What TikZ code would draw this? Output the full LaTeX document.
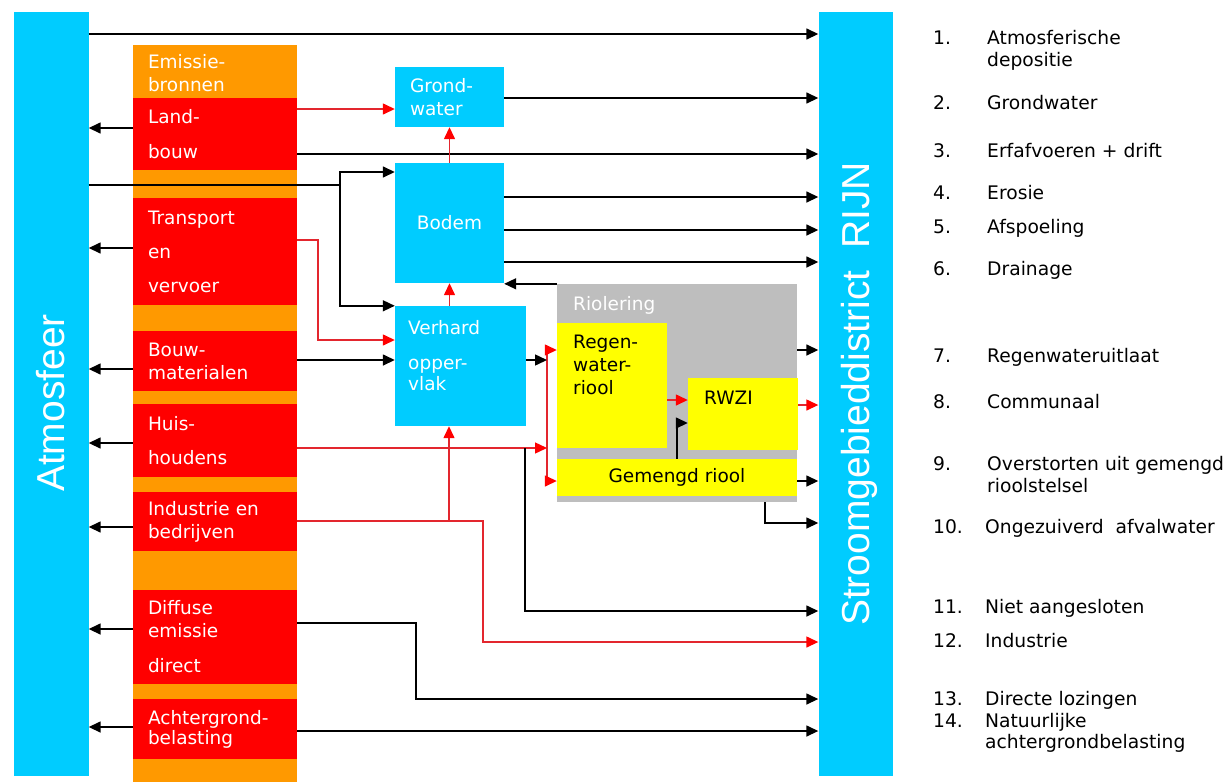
\documentclass[tikz,border=0pt]{standalone}
\usepackage{fontspec}
\usetikzlibrary{arrows.meta,positioning}
\newfontfamily\boxfont{DejaVu Sans}
\newfontfamily\barfont{Liberation Sans}
\definecolor{sky}{HTML}{00CCFF}
\definecolor{amber}{HTML}{FF9900}
\definecolor{signal}{HTML}{FF0000}
\definecolor{lemon}{HTML}{FFFF00}
\definecolor{sewer}{HTML}{BEBEBE}
\definecolor{redline}{HTML}{E3262E}

\begin{document}
\begin{tikzpicture}[x=1pt,y=-1pt,>={Triangle[length=12pt,width=11pt]},
  every node/.style={inner sep=0pt},
  bar/.style={fill=sky},
  bartxt/.style={font=\barfont\fontsize{39}{44}\selectfont,text=white,rotate=90},
  srcbox/.style={fill=signal,text=white,font=\boxfont\fontsize{18.5}{23}\selectfont,
    align=left,text width=134pt,inner xsep=15pt,minimum height=#1},
  bluebox/.style={fill=sky,text=white,font=\boxfont\fontsize{18.5}{23}\selectfont,align=left},
  wtxt/.style={text=white,font=\boxfont\fontsize{18.5}{23}\selectfont,align=left},
  ktxt/.style={text=black,font=\boxfont\fontsize{18.5}{23}\selectfont,align=left},
  legtxt/.style={text=black,font=\boxfont\fontsize{18.7}{22}\selectfont},
  flow/.style={draw=black,line width=1.5pt,->},
  redflow/.style={draw=redline,line width=1.4pt,-{Triangle[length=12pt,width=11pt,color=signal]}}]
\fill[white] (0,0) rectangle (1231,782);
\useasboundingbox (0,0) rectangle (1231,782);

% side bars
\node[bar,minimum width=75,minimum height=764] (atmosfeer) at (51,394) {};
\node[bar,minimum width=74,minimum height=764] (rijn) at (855.5,394) {};
\node[bartxt] (atmtxt) at (51,403) {Atmosfeer};
\node[bartxt] (rijntxt) at (859,394) {Stroomgebieddistrict~ RIJN};

% emission sources
\node[fill=amber,minimum width=164,minimum height=737] (kolom) at (215,413.5) {};
\node[srcbox=53,fill=amber] (emissie) at (215,73) {Emissie-\\bronnen};
\node[srcbox=72] (landbouw) at (215,134) {Land-\\[12pt]bouw};
\node[srcbox=107] (transport) at (215,251.5) {Transport\\[11pt]en\\[11pt]vervoer};
\node[srcbox=60] (bouw) at (215,361) {Bouw-\\materialen};
\node[srcbox=73] (huis) at (215,440.5) {Huis-\\[11pt]houdens};
\node[srcbox=59] (industrie) at (215,521.5) {Industrie en\\bedrijven};
\node[srcbox=94] (diffuse) at (215,637) {Diffuse\\emissie\\[12pt]direct};
\node[srcbox=60] (achtergrond) at (215,729) {Achtergrond-\\[-3pt]belasting};

% soil and surface
\node[bluebox,text width=79pt,inner xsep=15pt,minimum height=60] (grondwater) at (449.5,97) {Grond-\\water};
\node[bluebox,align=center,minimum width=109,minimum height=120] (bodem) at (449.5,223) {Bodem};
\node[fill=sky,minimum width=131,minimum height=120] (verhard) at (460.5,366) {};
\node[wtxt,anchor=north west] (verhardtxt) at (408,320) {Verhard\\[12pt]opper-\\[-2pt]vlak};

% sewer system
\node[fill=sewer,minimum width=240,minimum height=218] (riolering) at (677,393) {};
\node[wtxt,anchor=base west] (rioltxt) at (573,310) {Riolering};
\node[fill=lemon,minimum width=110,minimum height=125] (regen) at (612,385.5) {};
\node[ktxt,anchor=north west] (regentxt) at (573,335) {Regen-\\water-\\riool};
\node[fill=lemon,minimum width=110,minimum height=72] (rwzi) at (743,414) {};
\node[ktxt,anchor=base west] (rwzitxt) at (704,404) {RWZI};
\node[ktxt,fill=lemon,align=center,minimum width=240,minimum height=37] (gemengd) at (677,477.5) {Gemengd riool};

% legend
\foreach \nr/\xx/\yy/\txt in {1/987/44/Atmosferische,2/987/109/Grondwater,3/987/157/Erfafvoeren + drift,
  4/987/199/Erosie,5/987/233/Afspoeling,6/987/275/Drainage,7/987/362/Regenwateruitlaat,
  8/987/408/Communaal,9/987/470/Overstorten uit gemengd,10/985/533/Ongezuiverd~ afvalwater,
  11/985/613/Niet aangesloten,12/985/647/Industrie,13/985/705/Directe lozingen,14/985/727/Natuurlijke}{
  \node[legtxt,anchor=base west] (nr\nr) at (933,\yy) {\nr.};
  \node[legtxt,anchor=base west] (leg\nr) at (\xx,\yy) {\txt};}
\node[legtxt,anchor=base west] (leg1b) at (987,66) {depositie};
\node[legtxt,anchor=base west] (leg9b) at (987,492) {rioolstelsel};
\node[legtxt,anchor=base west] (leg14b) at (985,748) {achtergrondbelasting};

% emissions to the air
\foreach \src/\yy in {landbouw/128,transport/248,bouw/369,huis/443,industrie/527,diffuse/629,achtergrond/727}
  \draw[flow] (\src.west |- 0,\yy) -- (atmosfeer.east |- 0,\yy);

% flows
\draw[flow] (atmosfeer.east |- 0,34) -- (rijn.west |- 0,34);
\draw[redflow] (landbouw.east |- 0,109) -- (grondwater.west |- 0,109);
\draw[flow] (landbouw.east |- 0,154) -- (rijn.west |- 0,154);
\draw[flow] (grondwater.east |- 0,98) -- (rijn.west |- 0,98);
\coordinate (split) at (340,185);
\draw[line width=1.5pt] (atmosfeer.east |- split) -- (split);
\draw[flow] (split) |- (bodem.west |- 0,172);
\draw[flow] (split) |- (verhard.north west);
\draw[redflow] (transport.east |- 0,240) -| (318,300) |- (verhard.west |- 0,340);
\draw[flow] (bouw.east |- 0,360) -- (verhard.west |- 0,360);
\draw[redflow] (bodem.north) -- (grondwater.south);
\draw[redflow] (verhard.north -| bodem.south) -- (bodem.south);
\foreach \yy in {197,230,262}
  \draw[flow] (bodem.east |- 0,\yy) -- (rijn.west |- 0,\yy);
\draw[flow] (riolering.north west) -- (bodem.east |- riolering.north west);
\coordinate (verdeel) at (547,415);
\draw[redflow,{Triangle[length=12pt,width=11pt,color=signal]}-{Triangle[length=12pt,width=11pt,color=signal]}]
  (regen.west |- 0,350) -| (verdeel) |- (gemengd.west |- 0,481);
\draw[flow] (verhard.east |- 0,360) -- (verdeel |- 0,360);
\draw[redflow] (huis.east |- 0,448) -- (verdeel |- 0,448);
\coordinate (huisjoin) at (525,448);
\draw[flow] (huisjoin) |- (rijn.west |- 0,611);
\draw[redflow] (regen.east |- 0,400) -- (rwzi.west |- 0,400);
\draw[flow] (gemengd.north) |- (rwzi.west |- 0,423);
\draw[flow] (riolering.east |- 0,350) -- (rijn.west |- 0,350);
\draw[redflow] (rwzi.east |- 0,405) -- (rijn.west |- 0,405);
\draw[flow] (gemengd.east |- 0,481) -- (rijn.west |- 0,481);
\draw[flow] (riolering.south -| 765,0) |- (rijn.west |- 0,523);
\draw[redflow] (industrie.east |- 0,521) -| (483,600) |- (rijn.west |- 0,642);
\coordinate (indjoin) at (449,521);
\draw[redflow] (indjoin) -- (verhard.south -| indjoin);
\draw[flow] (diffuse.east |- 0,623) -| (416,660) |- (rijn.west |- 0,699);
\draw[flow] (achtergrond.east |- 0,731) -- (rijn.west |- 0,731);
\end{tikzpicture}
\end{document}
